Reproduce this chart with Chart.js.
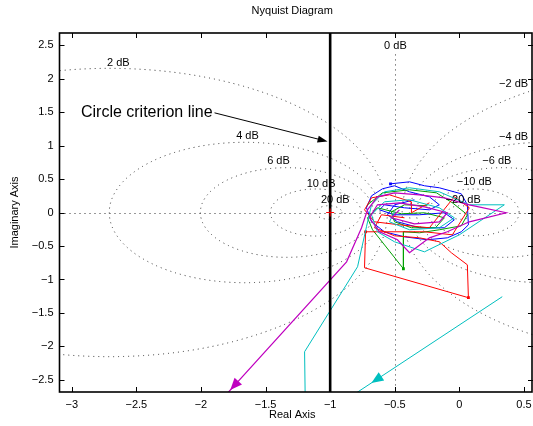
<!DOCTYPE html>
<html>
<head>
<meta charset="utf-8">
<script src="https://cdn.jsdelivr.net/npm/chart.js@4.4.1/dist/chart.umd.min.js"></script>
<style>
html, body { margin: 0; padding: 0; background: #fff; }
#wrap { width: 533px; height: 426px; }
</style>
</head>
<body>
<div id="wrap"><canvas id="nyq"></canvas></div>
<script>
// axes
var xTicks = [-3, -2.5, -2, -1.5, -1, -0.5, 0, 0.5];
var yTicks = [-2.5, -2, -1.5, -1, -0.5, 0, 0.5, 1, 1.5, 2, 2.5];
var xRange = [-3.095, 0.57];
var yRange = [-2.68, 2.68];

// M-circle grid (closed loop gain, dB) and their labels
var dbLevels = [2, 4, 6, 10, 20, -2, -4, -6, -10, -20];
var dbLabelText = ['0 dB', '2 dB', '4 dB', '6 dB', '10 dB', '20 dB', '\u22122 dB', '\u22124 dB', '\u22126 dB', '\u221210 dB', '\u221220 dB'];
var dbLabelRe = [-0.495, -2.64, -1.64, -1.40, -1.07, -0.96, 0.42, 0.42, 0.29, 0.116, 0.03];
var dbLabelIm = [2.48, 2.24, 1.14, 0.77, 0.43, 0.19, 1.92, 1.13, 0.77, 0.45, 0.19];

// curves (real part / imaginary part)
var blueRe = [-0.533,-0.386,-0.270,-0.155,0.015,0.062,0.070,0.015,-0.093,-0.247,-0.425,-0.580,-0.680,-0.719,-0.680,-0.595,-0.502,-0.386,-0.232,-0.155,-0.232,-0.425,-0.580,-0.618,-0.502,-0.309,-0.116,-0.039,-0.116,-0.309,-0.479,-0.556,-0.502,-0.348];
var blueIm = [0.428,0.458,0.399,0.369,0.279,0.115,-0.184,-0.288,-0.378,-0.407,-0.363,-0.288,-0.139,0.070,0.249,0.354,0.399,0.309,0.234,0.115,0.040,0.070,0.115,0.040,-0.034,-0.034,-0.004,-0.109,-0.228,-0.228,-0.139,-0.034,0.115,0.190];
var blueMarks = [0];

var greenRe = [-0.711,-0.595,-0.386,-0.178,-0.054,0.062,0.015,-0.155,-0.309,-0.433,-0.433,-0.672,-0.711,-0.634,-0.448,-0.270,-0.116,-0.185,-0.371,-0.502,-0.526,-0.425,-0.247];
var greenIm = [0.115,0.294,0.339,0.294,0.145,-0.034,-0.199,-0.258,-0.303,-0.288,-0.840,-0.258,-0.079,0.070,-0.019,-0.004,-0.079,-0.228,-0.228,-0.139,0.010,0.115,0.100];
var greenMarks = [10];

var redRe = [-0.232,-0.371,-0.371,-0.541,-0.680,-0.734,-0.657,-0.464,-0.232,-0.039,0.077,-0.054,-0.270,-0.726,-0.734,0.070,0.062,-0.062,-0.155,-0.309,-0.502,-0.657,-0.603,-0.425];
var redIm = [0.145,-0.004,0.160,0.264,0.219,0.040,-0.139,-0.184,-0.228,0.234,0.070,-0.333,-0.288,-0.288,-0.825,-1.272,-0.781,-0.601,-0.437,-0.378,-0.348,-0.228,-0.034,-0.079];
var redMarks = [13, 15];

var cyanRe = [0.332,-1.229,-1.190,-1.198,-0.788,-0.719,-0.680,-0.580,-0.386,-0.155,0.077,0.348,0,-0.270,-0.502,-0.634,-0.680,-0.580,-0.386,-0.155,-0.039,-0.155,-0.386,-0.541,-0.502];
var cyanIm = [-1.257,-3.242,-3.242,-2.079,-0.810,-0.213,0.115,0.309,0.369,0.309,0.115,0.115,-0.333,-0.587,-0.437,-0.288,-0.034,0.160,0.190,0.070,-0.079,-0.228,-0.258,-0.139,0.010];

var magentaRe = [-2.051,-0.873,-0.757,-0.711,-0.634,-0.502,-0.309,-0.116,0.077,0.363,0.077,-0.093,-0.232,-0.386,-0.479,-0.618,-0.696,-0.634,-0.464,-0.270,-0.093,-0.155,-0.348,-0.526,-0.464];
var magentaIm = [-3.242,-0.736,-0.228,0.040,0.234,0.294,0.264,0.219,0.115,-0.004,-0.139,-0.288,-0.378,-0.601,-0.407,-0.288,-0.079,0.115,0.145,0.085,-0.004,-0.139,-0.169,-0.079,0.040];

// circle criterion line and critical point
var critLineRe = [-1, -1];
var critLineIm = [yRange[0], yRange[1]];
var critPointRe = [-1];
var critPointIm = [0];

// arrowheads on curves: segment index, fraction along it, pointing back along the segment or not
var curveArrows = [
  { re: cyanRe, im: cyanIm, seg: 0, t: 0.624, back: false, color: '#00bfbf' },
  { re: magentaRe, im: magentaIm, seg: 0, t: 0.262, back: true, color: '#bf00bf' }
];

var note = { text: 'Circle criterion line', re: -2.929, im: 1.488, tipRe: -1.02, tipIm: 1.06 };

var FONT = '"Liberation Sans", Arial, Helvetica, sans-serif';

function pts(re, im) {
  return re.map(function(x, i) { return { x: x, y: im[i] }; });
}
function fmt(v) {
  return String(v).replace('-', '\u2212');
}

function series(re, im, color, marks, width, order) {
  return {
    data: pts(re, im),
    showLine: true,
    borderColor: color,
    backgroundColor: color,
    borderWidth: width,
    tension: 0,
    pointStyle: 'rect',
    pointRadius: function(c) { return marks.indexOf(c.dataIndex) >= 0 ? 2 : 0; },
    pointBorderWidth: 0,
    pointBackgroundColor: color,
    clip: 0,
    order: order
  };
}

var nyqDecor = {
  id: 'nyqDecor',
  beforeDatasetsDraw: function(chart) {
    var ctx = chart.ctx, a = chart.chartArea, xs = chart.scales.x, ys = chart.scales.y;
    ctx.save();
    ctx.beginPath();
    ctx.rect(a.left, a.top, a.right - a.left, a.bottom - a.top);
    ctx.clip();
    ctx.strokeStyle = '#333';
    ctx.lineWidth = 1;
    ctx.setLineDash([1, 4]);
    dbLevels.forEach(function(db) {
      var m = Math.pow(10, db / 20), m2 = m * m;
      var c = -m2 / (m2 - 1), r = Math.abs(m / (m2 - 1));
      var cx = xs.getPixelForValue(c), cy = ys.getPixelForValue(0);
      var rx = Math.abs(xs.getPixelForValue(c + r) - cx);
      var ry = Math.abs(ys.getPixelForValue(r) - cy);
      ctx.beginPath();
      ctx.ellipse(cx, cy, rx, ry, 0, 0, 2 * Math.PI);
      ctx.stroke();
    });
    // 0 dB line
    var x05 = Math.round(xs.getPixelForValue(-0.5)) + 0.5;
    ctx.beginPath();
    ctx.moveTo(x05, ys.getPixelForValue(2.36));
    ctx.lineTo(x05, a.bottom);
    ctx.stroke();
    // real axis
    var y0 = Math.round(ys.getPixelForValue(0)) + 0.5;
    ctx.beginPath();
    ctx.moveTo(a.left, y0);
    ctx.lineTo(a.right, y0);
    ctx.stroke();
    ctx.restore();
  },
  afterDatasetsDraw: function(chart) {
    var ctx = chart.ctx, a = chart.chartArea, xs = chart.scales.x, ys = chart.scales.y;
    ctx.save();
    // dB labels
    ctx.fillStyle = '#000';
    ctx.font = '11px ' + FONT;
    ctx.textAlign = 'center';
    ctx.textBaseline = 'middle';
    dbLabelText.forEach(function(t, i) {
      ctx.fillText(t, xs.getPixelForValue(dbLabelRe[i]), ys.getPixelForValue(dbLabelIm[i]));
    });
    // arrowheads on curves
    ctx.beginPath();
    ctx.rect(a.left, a.top, a.right - a.left, a.bottom - a.top);
    ctx.clip();
    curveArrows.forEach(function(ar) {
      var x0 = xs.getPixelForValue(ar.re[ar.seg]), y0 = ys.getPixelForValue(ar.im[ar.seg]);
      var x1 = xs.getPixelForValue(ar.re[ar.seg + 1]), y1 = ys.getPixelForValue(ar.im[ar.seg + 1]);
      var px = x0 + (x1 - x0) * ar.t, py = y0 + (y1 - y0) * ar.t;
      var ang = ar.back ? Math.atan2(y0 - y1, x0 - x1) : Math.atan2(y1 - y0, x1 - x0);
      ctx.save();
      ctx.translate(px, py);
      ctx.rotate(ang);
      ctx.fillStyle = ar.color;
      ctx.beginPath();
      ctx.moveTo(6, 0);
      ctx.lineTo(-6, -5);
      ctx.lineTo(-6, 5);
      ctx.closePath();
      ctx.fill();
      ctx.restore();
    });
    ctx.restore();

    // annotation with arrow
    ctx.save();
    ctx.fillStyle = '#000';
    ctx.strokeStyle = '#000';
    ctx.font = '16px ' + FONT;
    ctx.textAlign = 'left';
    ctx.textBaseline = 'middle';
    var tx = xs.getPixelForValue(note.re), ty = ys.getPixelForValue(note.im);
    ctx.fillText(note.text, tx, ty);
    var sx = tx + ctx.measureText(note.text).width + 2, sy = ty;
    var ex = xs.getPixelForValue(note.tipRe), ey = ys.getPixelForValue(note.tipIm);
    var ang = Math.atan2(ey - sy, ex - sx);
    ctx.lineWidth = 1;
    ctx.beginPath();
    ctx.moveTo(sx, sy);
    ctx.lineTo(ex - 8 * Math.cos(ang), ey - 8 * Math.sin(ang));
    ctx.stroke();
    ctx.translate(ex, ey);
    ctx.rotate(ang);
    ctx.beginPath();
    ctx.moveTo(0, 0);
    ctx.lineTo(-10, -3.5);
    ctx.lineTo(-10, 3.5);
    ctx.closePath();
    ctx.fill();
    ctx.restore();
  },
  afterDraw: function(chart) {
    var ctx = chart.ctx, a = chart.chartArea, xs = chart.scales.x, ys = chart.scales.y;
    ctx.save();
    ctx.strokeStyle = '#000';
    // inward ticks
    ctx.lineWidth = 1;
    ctx.beginPath();
    xTicks.forEach(function(v) {
      var x = Math.round(xs.getPixelForValue(v)) + 0.5;
      ctx.moveTo(x, a.bottom); ctx.lineTo(x, a.bottom - 5);
      ctx.moveTo(x, a.top); ctx.lineTo(x, a.top + 5);
    });
    yTicks.forEach(function(v) {
      var y = Math.round(ys.getPixelForValue(v)) + 0.5;
      ctx.moveTo(a.left, y); ctx.lineTo(a.left + 5, y);
      ctx.moveTo(a.right, y); ctx.lineTo(a.right - 5, y);
    });
    ctx.stroke();
    // box
    ctx.lineWidth = 1.6;
    ctx.strokeRect(a.left, a.top, a.right - a.left - 1, a.bottom - a.top);
    // titles
    ctx.fillStyle = '#000';
    ctx.font = '11px ' + FONT;
    ctx.textAlign = 'center';
    ctx.textBaseline = 'middle';
    var mid = (a.left + a.right) / 2;
    ctx.fillText('Nyquist Diagram', mid - 4, 11);
    ctx.fillText('Real Axis', mid - 4, 415);
    ctx.translate(15, (a.top + a.bottom) / 2);
    ctx.rotate(-Math.PI / 2);
    ctx.fillText('Imaginary Axis', 0, 0);
    ctx.restore();
  }
};

var ctx = document.getElementById('nyq').getContext('2d');
var chart = new Chart(ctx, {
  type: 'scatter',
  data: {
    datasets: [
      series(blueRe, blueIm, '#0000ff', blueMarks, 1, 6),
      series(greenRe, greenIm, '#00a000', greenMarks, 1, 5),
      series(redRe, redIm, '#ff0000', redMarks, 1, 4),
      series(cyanRe, cyanIm, '#00bfbf', [], 1, 3),
      series(magentaRe, magentaIm, '#bf00bf', [], 1.2, 2),
      {
        data: pts(critLineRe, critLineIm),
        showLine: true,
        borderColor: '#000',
        borderWidth: 2.6,
        pointRadius: 0,
        clip: 0,
        order: 1
      },
      {
        data: pts(critPointRe, critPointIm),
        showLine: false,
        pointStyle: 'cross',
        pointRadius: 4,
        borderColor: '#ff0000',
        borderWidth: 1,
        order: 0
      }
    ]
  },
  options: {
    responsive: true,
    maintainAspectRatio: false,
    animation: false,
    devicePixelRatio: 1,
    layout: { autoPadding: false, padding: { top: 33, right: 0, left: 0, bottom: 0 } },
    plugins: { legend: { display: false }, tooltip: { enabled: false }, title: { display: false } },
    scales: {
      x: {
        type: 'linear',
        min: xRange[0],
        max: xRange[1],
        afterBuildTicks: function(s) { s.ticks = xTicks.map(function(v) { return { value: v }; }); },
        afterFit: function(s) { s.height = 34; s.paddingLeft = 0; s.paddingRight = 0; },
        grid: { display: false, drawTicks: false },
        border: { display: false },
        ticks: {
          autoSkip: false,
          maxRotation: 0,
          padding: 6,
          color: '#000',
          font: { family: FONT, size: 11 },
          callback: function(v) { return fmt(v); }
        }
      },
      y: {
        type: 'linear',
        min: yRange[0],
        max: yRange[1],
        afterBuildTicks: function(s) { s.ticks = yTicks.map(function(v) { return { value: v }; }); },
        afterFit: function(s) { s.width = 59.5; s.paddingTop = 0; s.paddingBottom = 0; },
        grid: { display: false, drawTicks: false },
        border: { display: false },
        ticks: {
          autoSkip: false,
          padding: 6,
          color: '#000',
          font: { family: FONT, size: 11 },
          callback: function(v) { return fmt(v); }
        }
      }
    }
  },
  plugins: [nyqDecor]
});
</script>
</body>
</html>
